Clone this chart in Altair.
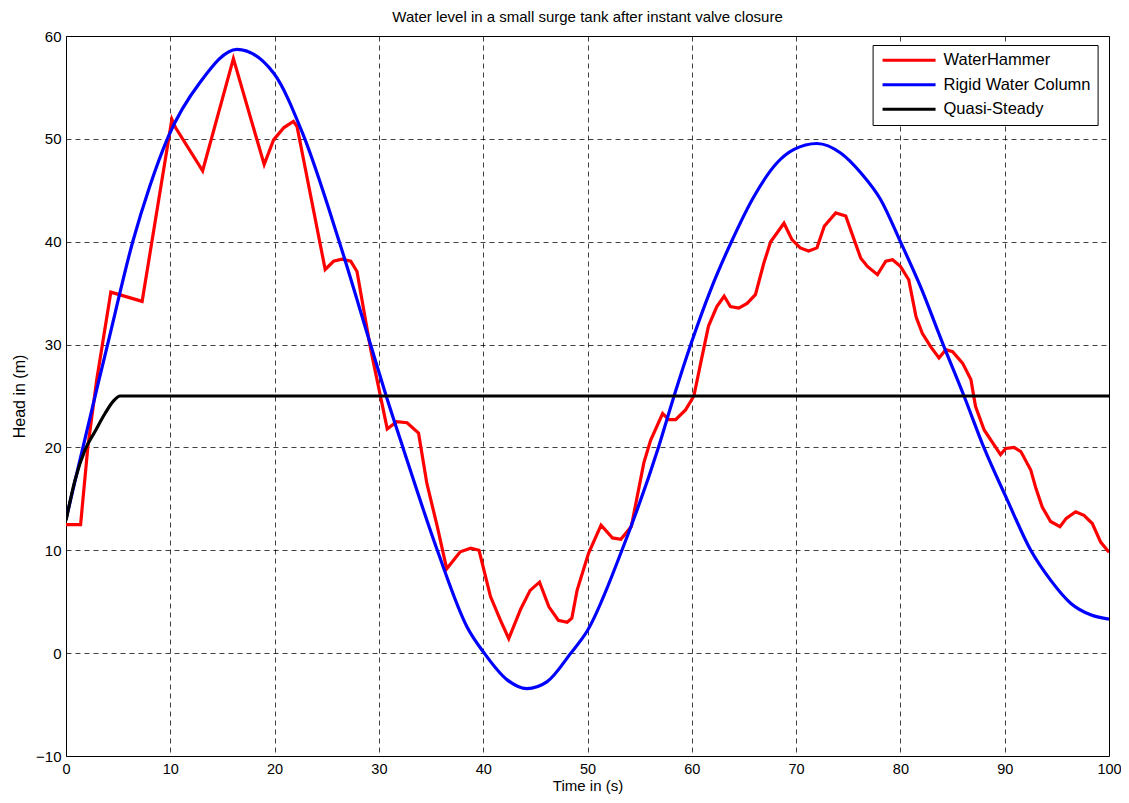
import altair as alt
import pandas as pd

# WaterHammer (red)
wh_t = [0, 1.4, 2.1, 2.95, 4.3, 7.3, 10.15, 10.5, 13.1, 16.05, 19.0, 19.9, 20.9, 21.8, 22.15,
        24.85, 25.65, 26.45, 27.3, 27.9, 29.2, 30.8, 31.7, 32.7, 33.8, 34.6, 35.6, 36.5, 37.8,
        38.8, 39.6, 40.7, 41.65, 42.45, 43.6, 44.5, 45.4, 46.3, 47.2, 48.05, 48.5, 49.0, 50.1,
        51.3, 52.4, 53.2, 54.2, 55.4, 56.05, 57.2, 57.8, 58.45, 59.4, 60.2, 60.85, 61.6, 62.4,
        63.1, 63.7, 64.5, 65.3, 66.1, 66.9, 67.56, 68.84, 69.6, 70.4, 71.2, 72.0, 72.7, 73.8,
        74.76, 75.56, 76.2, 76.84, 77.8, 78.6, 79.25, 80.0, 80.8, 81.5, 82.1, 82.9, 83.7, 84.36,
        85.0, 85.96, 86.76, 87.2, 88.03, 89.6, 90.1, 90.9, 91.55, 92.5, 93.0, 93.6, 94.4, 95.3,
        95.9, 96.8, 97.6, 98.4, 99.2, 100]
wh_h = [12.5, 12.5, 20.1, 26.6, 35.1, 34.2, 51.9, 51.1, 46.9, 57.8, 47.5, 49.9, 51.1, 51.7, 51.2,
        37.3, 38.1, 38.3, 38.1, 37.1, 29.6, 21.8, 22.5, 22.4, 21.4, 16.5, 12.3, 8.2, 9.85,
        10.2, 10.0, 5.5, 3.2, 1.4, 4.3, 6.1, 6.9, 4.5, 3.2, 3.0, 3.4, 6.1, 9.7,
        12.45, 11.2, 11.06, 12.3, 18.5, 20.7, 23.3, 22.7, 22.7, 23.65, 25.0, 28.2, 31.8, 33.7,
        34.7, 33.7, 33.55, 34.0, 34.85, 37.9, 40.0, 41.8, 40.2, 39.4, 39.1, 39.4, 41.5, 42.8,
        42.5, 40.2, 38.4, 37.6, 36.8, 38.1, 38.25, 37.6, 36.3, 32.7, 31.1, 29.8, 28.7, 29.5,
        29.3, 28.2, 26.6, 24.0, 21.7, 19.3, 19.9, 20.0, 19.6, 17.8, 16.0, 14.2, 12.8, 12.3,
        13.1, 13.75, 13.4, 12.6, 10.8, 9.8]

# Rigid Water Column (blue)
rw_t = [0, 1.34, 3.1, 4.06, 6.4, 8.0, 9.8, 12.86, 16.4, 19.9, 22.7, 26.2, 29.2, 30.7, 32.3,
        35.6, 38.45, 40.1, 42.3, 44.2, 46.1, 48.4, 50.0, 53.3, 56.8, 58.3, 59.9, 61.8, 63.8,
        65.96, 68.2, 69.8, 72.0, 74.3, 76.2, 78.1, 80.0, 81.9, 84.1, 86.1, 88.0, 90.2, 92.5,
        94.4, 96.35, 98.3, 100]
rw_h = [13.0, 18.8, 26.3, 30.3, 40.0, 45.3, 50.2, 55.5, 58.7, 56.4, 50.5, 40.0, 30.0, 25.0, 20.0,
        10.0, 2.55, 0.0, -2.6, -3.45, -2.8, 0.0, 2.2, 10.0, 20.0, 25.0, 30.0, 35.3, 40.0,
        44.4, 47.7, 48.97, 49.55, 48.6, 46.7, 44.1, 40.0, 35.7, 30.0, 25.0, 20.0, 15.0, 10.0,
        7.1, 4.83, 3.7, 3.3]

# Quasi-Steady (black)
qs_t = [0, 0.86, 1.82, 2.78, 3.74, 4.54, 5.18, 100]
qs_h = [12.9, 16.8, 19.75, 21.55, 23.3, 24.5, 25.0, 25.0]

series_names = ["WaterHammer", "Rigid Water Column", "Quasi-Steady"]
series_colors = ["#ff0000", "#0000ff", "#000000"]
x_ticks = list(range(0, 101, 10))
y_ticks = list(range(-10, 61, 10))

rows = []
for name, ts, hs in zip(series_names, [wh_t, rw_t, qs_t], [wh_h, rw_h, qs_h]):
    for i, (t, h) in enumerate(zip(ts, hs)):
        rows.append({"t": t, "h": h, "series": name, "order": i})
df = pd.DataFrame(rows)

FONT = "Liberation Sans"

color = alt.Color(
    "series:N",
    scale=alt.Scale(domain=series_names, range=series_colors),
    legend=alt.Legend(
        title=None, orient="none", legendX=806.6, legendY=9,
        strokeColor="black", fillColor="white", padding=7, cornerRadius=0,
        symbolType="M-1,0H9", symbolSize=112.36, symbolStrokeWidth=3.2,
        labelFont=FONT, labelFontSize=16.5, labelColor="black",
        rowPadding=7.5, labelOffset=47.4,
    ),
)

xenc = alt.X("t:Q", scale=alt.Scale(domain=[0, 100], nice=False),
             axis=alt.Axis(values=x_ticks, title="Time in (s)", labelFlush=False,
                           labelFontSize=14.5, titleFontSize=15,
                           labelPadding=6, titleY=34, titleBaseline="alphabetic"))
yenc = alt.Y("h:Q", scale=alt.Scale(domain=[-10, 60], nice=False),
             axis=alt.Axis(values=y_ticks, title="Head in (m)", labelPadding=5,
                           titleX=-47, titleY=360, titleBaseline="middle", titleAlign="center"))

base = alt.Chart(df)

def layer(name, interp):
    return base.transform_filter(alt.datum.series == name).mark_line(
        strokeWidth=3.2, interpolate=interp, clip=True
    ).encode(x=xenc, y=yenc, color=color, order="order:Q")

chart = alt.layer(
    layer("WaterHammer", "linear"),
    layer("Rigid Water Column", "monotone"),
    layer("Quasi-Steady", "monotone"),
).properties(
    width=1043, height=720,
    autosize="none",
    padding={"left": 58, "top": 28, "right": 12, "bottom": 39},
    title=alt.Title("Water level in a small surge tank after instant valve closure",
                    font=FONT, fontSize=15, fontWeight="normal", color="black",
                    anchor="middle", frame="group", offset=4),
    background="white",
).configure_view(
    stroke="black", strokeWidth=1
).configure_axis(
    domain=False, ticks=False,
    labelFont=FONT, labelFontSize=15, labelColor="black",
    titleFont=FONT, titleFontSize=16, titleFontWeight="normal", titleColor="black",
    grid=True, gridColor="black", gridDash=[5, 4], gridWidth=1, gridOpacity=0.75,
)

chart.save("out.html", embed_options={"renderer": "svg", "actions": False})
